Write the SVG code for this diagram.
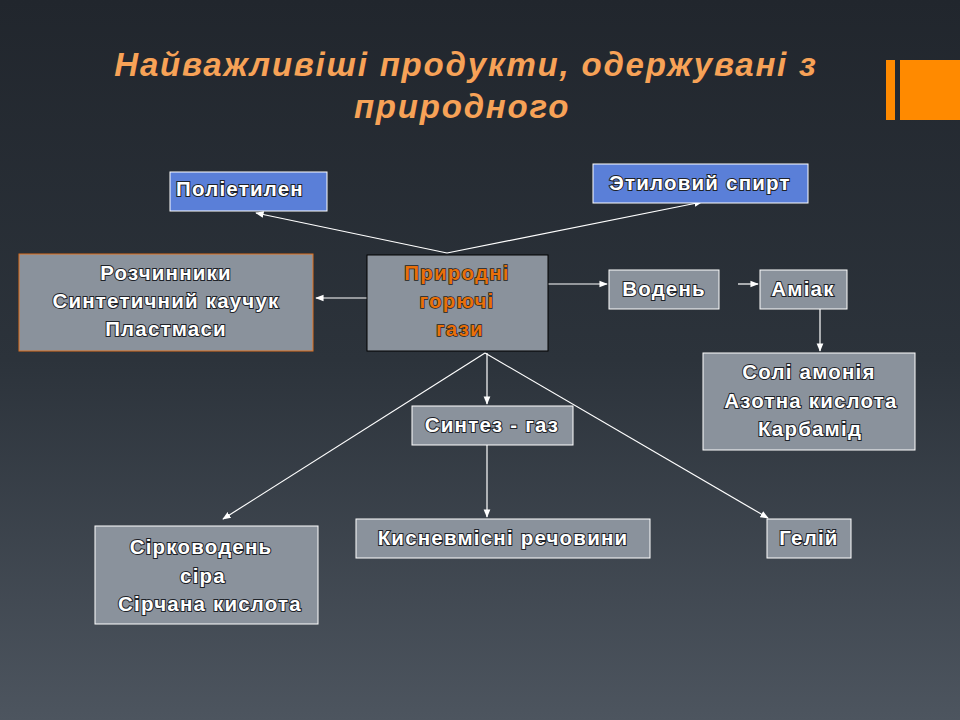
<svg xmlns="http://www.w3.org/2000/svg" width="960" height="720" viewBox="0 0 960 720">
<defs>
<linearGradient id="bg" x1="0" y1="0" x2="0" y2="1"><stop offset="0" stop-color="#21262d"/><stop offset="0.5" stop-color="#2c333b"/><stop offset="1" stop-color="#4d555f"/></linearGradient>
<marker id="ar" viewBox="0 0 10 10" refX="9" refY="5" markerWidth="7" markerHeight="7" orient="auto"><path d="M0,1 L10,5 L0,9 z" fill="#fff"/></marker>
</defs>
<style>
.b{fill:#8a929c;stroke:#fff;stroke-width:1}
.bl{fill:#5a7fd8;stroke:#fff;stroke-width:1}
.t{font-family:"Liberation Sans",Arial,sans-serif;font-weight:bold;font-size:20.5px;letter-spacing:1.2px;fill:#fff;text-anchor:middle;paint-order:stroke;stroke:#1e2228;stroke-width:2}
.c line{stroke:#fff;stroke-width:1.2;marker-end:url(#ar)}
</style>
<rect width="960" height="720" fill="url(#bg)"/>
<rect x="886" y="60" width="9" height="60" fill="#ff8a00"/>
<rect x="900" y="60" width="60" height="60" fill="#ff8a00"/>
<g font-family="Liberation Sans,Arial,sans-serif" font-weight="bold" font-style="italic" font-size="33" letter-spacing="1.8" fill="#f7a257" text-anchor="middle">
<text x="466" y="76">Найважливіші продукти, одержувані з</text>
<text x="462" y="118">природного</text>
</g>
<g class="c">
<line x1="447" y1="253" x2="256" y2="213"/>
<line x1="447" y1="253" x2="702" y2="202"/>
<line x1="367" y1="298" x2="316" y2="298"/>
<line x1="548" y1="284" x2="607" y2="284"/>
<line x1="738" y1="284" x2="758" y2="284"/>
<line x1="820" y1="309" x2="820" y2="351"/>
<line x1="485" y1="353" x2="223" y2="519"/>
<line x1="487" y1="353" x2="487" y2="404"/>
<line x1="485" y1="353" x2="768" y2="518"/>
<line x1="487" y1="445" x2="487" y2="517"/>
</g>
<g id="n1"><rect class="bl" x="170" y="172" width="157" height="39"/><text class="t" x="240" y="196">Поліетилен</text></g>
<g id="n2"><rect class="bl" x="593" y="164" width="215" height="39"/><text class="t" x="700" y="190">Этиловий спирт</text></g>
<g id="n3"><rect class="b" x="19" y="254" width="294" height="97" style="stroke:#e0701e"/><text class="t" x="166" y="280">Розчинники</text><text class="t" x="166" y="308">Синтетичний каучук</text><text class="t" x="166" y="336">Пластмаси</text></g>
<g id="n4"><rect class="b" x="367" y="255" width="181" height="96" style="stroke:#000"/>
<g class="t" style="fill:#e8700a;stroke:#222;stroke-width:1.5"><text x="457" y="280">Природні</text><text x="457" y="308">горючі</text><text x="460" y="336">гази</text></g></g>
<g id="n5"><rect class="b" x="609" y="270" width="110" height="39"/><text class="t" x="664" y="296">Водень</text></g>
<g id="n6"><rect class="b" x="760" y="270" width="87" height="39"/><text class="t" x="803" y="296">Аміак</text></g>
<g id="n7"><rect class="b" x="703" y="353" width="212" height="97"/><text class="t" x="809" y="379">Солі амонія</text><text class="t" x="811" y="408">Азотна кислота</text><text class="t" x="810" y="436">Карбамід</text></g>
<g id="n8"><rect class="b" x="412" y="406" width="161" height="39"/><text class="t" x="492" y="432">Синтез - газ</text></g>
<g id="n9"><rect class="b" x="95" y="526" width="223" height="98"/><text class="t" x="201" y="554">Сірководень</text><text class="t" x="203" y="583">сіра</text><text class="t" x="210" y="611">Сірчана кислота</text></g>
<g id="n10"><rect class="b" x="356" y="519" width="294" height="39"/><text class="t" x="503" y="545">Кисневмісні  речовини</text></g>
<g id="n11"><rect class="b" x="767" y="519" width="84" height="39"/><text class="t" x="809" y="545">Гелій</text></g>
</svg>
